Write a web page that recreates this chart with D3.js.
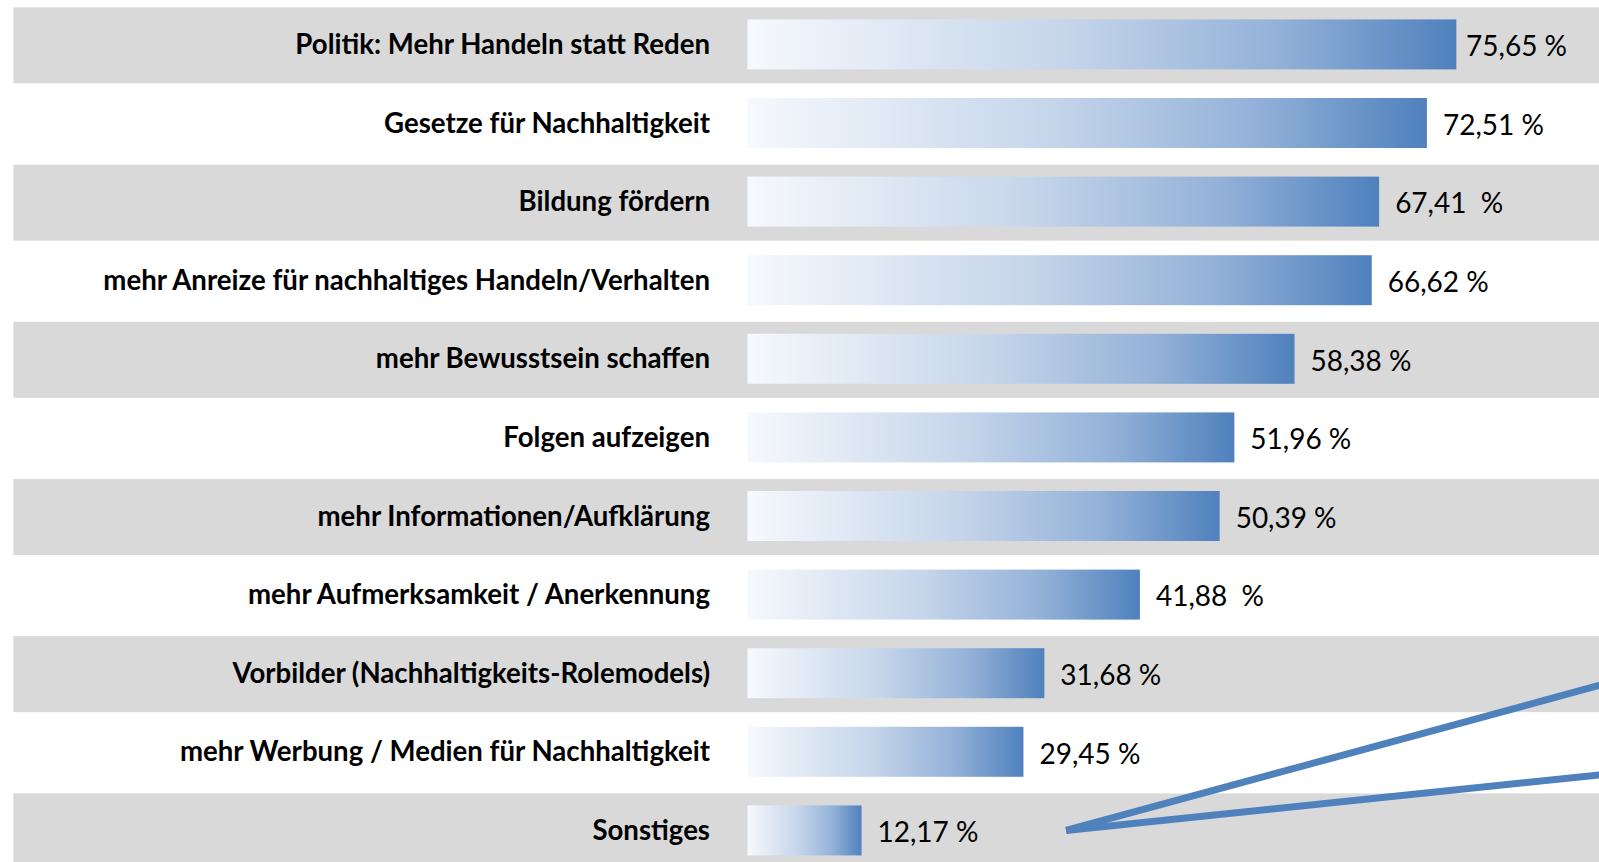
<!DOCTYPE html>
<html>
<head>
<meta charset="utf-8">
<script src="https://cdn.jsdelivr.net/npm/d3@7"></script>
<style>
  html, body { margin: 0; padding: 0; background: #ffffff; }
  svg { display: block; }
</style>
</head>
<body>
<svg id="chart" width="1599" height="862"></svg>
<script>
// ---- data ----
const categories = [
  "Politik: Mehr Handeln statt Reden",
  "Gesetze für Nachhaltigkeit",
  "Bildung fördern",
  "mehr Anreize für nachhaltiges Handeln/Verhalten",
  "mehr Bewusstsein schaffen",
  "Folgen aufzeigen",
  "mehr Informationen/Aufklärung",
  "mehr Aufmerksamkeit / Anerkennung",
  "Vorbilder (Nachhaltigkeits-Rolemodels)",
  "mehr Werbung / Medien für Nachhaltigkeit",
  "Sonstiges"
];
const values = [75.65, 72.51, 67.41, 66.62, 58.38, 51.96, 50.39, 41.88, 31.68, 29.45, 12.17];
const valueLabels = ["75,65 %", "72,51 %", "67,41  %", "66,62 %", "58,38 %", "51,96 %",
                     "50,39 %", "41,88  %", "31,68 %", "29,45 %", "12,17 %"];
// callout lines (x in %, y in row index units)
const calloutStart = {x: 34, row: 10};
const calloutEnds = [{x: 92, row: 8.12}, {x: 92, row: 9.28}];

// ---- layout ----
const W = 1599, H = 862;
const svg = d3.select("#chart");
const x = d3.scaleLinear().domain([0, 100]).range([747.5, 1684.5]);
const y = d3.scalePoint().domain(categories).range([44.4, 830.4]);
const rowPos = d3.scaleLinear().domain([0, categories.length - 1]).range([44.4, 830.4]);
const barH = 50;

const defs = svg.append("defs");
const grad = defs.append("linearGradient").attr("id", "barGrad")
  .attr("x1", "0%").attr("x2", "100%").attr("y1", "0%").attr("y2", "0%");
grad.append("stop").attr("offset", "0%").attr("stop-color", "#f6f9fd");
grad.append("stop").attr("offset", "45%").attr("stop-color", "#c5d5ea");
grad.append("stop").attr("offset", "75%").attr("stop-color", "#93b1d8");
grad.append("stop").attr("offset", "100%").attr("stop-color", "#4f81bd");

// alternating gray bands
svg.append("g").selectAll("rect")
  .data(categories.filter((d, i) => i % 2 === 0))
  .join("rect")
  .attr("x", 13.3)
  .attr("y", d => y(d) - 37)
  .attr("width", W - 13.3)
  .attr("height", 76)
  .attr("fill", "#d9d9d9");

// bars
svg.append("g").selectAll("rect")
  .data(categories)
  .join("rect")
  .attr("x", x(0))
  .attr("y", d => y(d) - barH / 2)
  .attr("width", (d, i) => x(values[i]) - x(0))
  .attr("height", barH)
  .attr("fill", "url(#barGrad)");

// category labels
svg.append("g").selectAll("text")
  .data(categories)
  .join("text")
  .attr("x", 710)
  .attr("y", d => y(d))
  .attr("dy", "0.35em")
  .attr("text-anchor", "end")
  .attr("font-family", "Lato, 'Open Sans', sans-serif")
  .attr("font-weight", "bold")
  .attr("font-size", 27.6)
  .attr("fill", "#000")
  .text(d => d);

// value labels (kept inside the right margin)
svg.append("g").selectAll("text")
  .data(categories)
  .join("text")
  .attr("y", d => y(d) + 2)
  .attr("dy", "0.35em")
  .attr("text-anchor", "start")
  .style("white-space", "pre")
  .attr("font-family", "Lato, 'Open Sans', sans-serif")
  .attr("font-size", 28)
  .attr("fill", "#000")
  .text((d, i) => valueLabels[i])
  .attr("x", function(d, i) {
    const w = this.getComputedTextLength();
    return Math.min(x(values[i]) + 16, W - 32 - w);
  });

// callout lines
const line = d3.line().x(p => x(p.x)).y(p => rowPos(p.row));
svg.append("g").selectAll("path")
  .data(calloutEnds)
  .join("path")
  .attr("d", e => line([calloutStart, e]))
  .attr("fill", "none")
  .attr("stroke", "#4f81bd")
  .attr("stroke-width", 7)
  .attr("stroke-linejoin", "miter");
</script>
</body>
</html>
